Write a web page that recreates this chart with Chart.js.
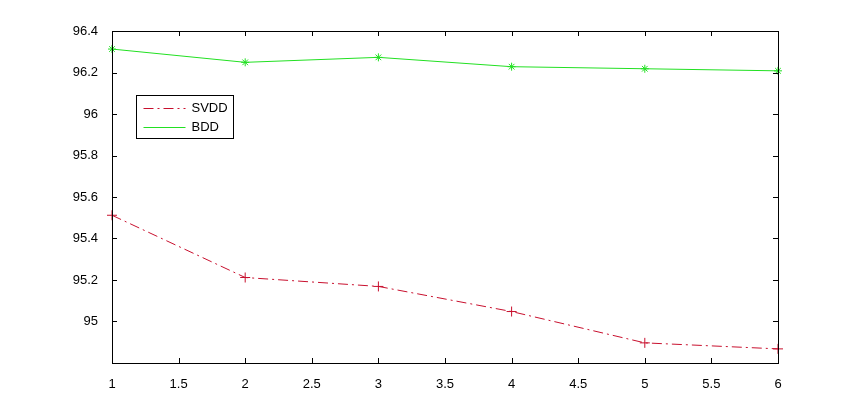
<!DOCTYPE html>
<html>
<head>
<meta charset="utf-8">
<script src="https://cdn.jsdelivr.net/npm/chart.js@4"></script>
<style>
  body { margin: 0; background: #fff; }
  #wrap { width: 859px; height: 408px; }
</style>
</head>
<body>
<div id="wrap"><canvas id="myChart" width="859" height="408"></canvas></div>
<script>
// data
const xValues = [1, 2, 3, 4, 5, 6];
const svddValues = [95.512, 95.212, 95.169, 95.048, 94.897, 94.868];
const bddValues = [96.313, 96.249, 96.273, 96.228, 96.218, 96.208];
const seriesNames = ['SVDD', 'BDD'];

const redColor = '#c8102e';
const greenColor = '#22e022';
const tickFont = { family: '"Liberation Sans", Arial, sans-serif', size: 13 };

function toPoints(vals) {
  return vals.map((v, i) => ({ x: xValues[i], y: v }));
}

// box round the plot with inward ticks on all four sides, MATLAB style
const boxPlugin = {
  id: 'boxPlugin',
  afterDatasetsDraw(chart) {
    const ctx = chart.ctx;
    const a = chart.chartArea;
    const xs = chart.scales.x, ys = chart.scales.y;
    const len = 5;
    ctx.save();
    ctx.strokeStyle = '#000';
    ctx.lineWidth = 1;
    ctx.strokeRect(Math.round(a.left) + 0.5, Math.round(a.top) + 0.5,
      Math.round(a.right - a.left), Math.round(a.bottom - a.top));
    ctx.beginPath();
    xs.ticks.forEach(t => {
      const px = Math.round(xs.getPixelForValue(t.value)) + 0.5;
      ctx.moveTo(px, a.bottom); ctx.lineTo(px, a.bottom - len);
      ctx.moveTo(px, a.top); ctx.lineTo(px, a.top + len);
    });
    ys.ticks.forEach(t => {
      const py = Math.round(ys.getPixelForValue(t.value)) + 0.5;
      ctx.moveTo(a.left, py); ctx.lineTo(a.left + len, py);
      ctx.moveTo(a.right, py); ctx.lineTo(a.right - len, py);
    });
    ctx.stroke();
    ctx.restore();
  }
};

// legend drawn inside the axes
const insideLegend = {
  id: 'insideLegend',
  afterDraw(chart) {
    const ctx = chart.ctx;
    const a = chart.chartArea;
    const bx = a.left + 24.5, by = a.top + 64.5, bw = 97, bh = 43;
    ctx.save();
    ctx.fillStyle = '#fff';
    ctx.fillRect(bx, by, bw, bh);
    ctx.strokeStyle = '#000';
    ctx.lineWidth = 1;
    ctx.strokeRect(bx, by, bw, bh);
    ctx.font = '13px "Liberation Sans", Arial, sans-serif';
    ctx.textBaseline = 'middle';
    chart.data.datasets.forEach((ds, i) => {
      const y = Math.round(by + 12 + i * 19) + 0.5;
      ctx.strokeStyle = ds.borderColor;
      ctx.setLineDash(ds.borderDash || []);
      ctx.beginPath();
      ctx.moveTo(bx + 7, y);
      ctx.lineTo(bx + 49, y);
      ctx.stroke();
      ctx.setLineDash([]);
      ctx.fillStyle = '#000';
      ctx.fillText(ds.label, bx + 55, y);
    });
    ctx.restore();
  }
};

const ctx = document.getElementById('myChart').getContext('2d');
const chart = new Chart(ctx, {
  type: 'line',
  data: {
    datasets: [
      {
        label: seriesNames[0],
        data: toPoints(svddValues),
        borderColor: redColor,
        backgroundColor: redColor,
        borderWidth: 1,
        borderDash: [10, 4, 2, 4],
        pointStyle: 'cross',
        pointRadius: 5,
        pointBorderWidth: 1,
        tension: 0
      },
      {
        label: seriesNames[1],
        data: toPoints(bddValues),
        borderColor: greenColor,
        backgroundColor: greenColor,
        borderWidth: 1,
        pointStyle: 'star',
        pointRadius: 4,
        pointBorderWidth: 1,
        tension: 0
      }
    ]
  },
  options: {
    responsive: false,
    animation: false,
    clip: false,
    layout: { padding: { left: 0, right: 81, top: 31, bottom: 0 } },
    plugins: {
      legend: { display: false },
      tooltip: { enabled: false }
    },
    scales: {
      x: {
        type: 'linear',
        min: 1,
        max: 6,
        grid: { display: false },
        border: { display: false },
        ticks: {
          stepSize: 0.5,
          color: '#000',
          padding: 6,
          font: tickFont,
          callback: v => String(+v.toFixed(1))
        },
        afterFit(scale) { scale.height = 45; }
      },
      y: {
        min: 94.8,
        max: 96.4,
        grid: { display: false },
        border: { display: false },
        ticks: {
          stepSize: 0.2,
          color: '#000',
          padding: 6,
          font: tickFont,
          callback: v => Math.abs(v - 94.8) < 1e-6 ? '' : String(+v.toFixed(1))
        },
        afterFit(scale) { scale.width = 112; }
      }
    }
  },
  plugins: [boxPlugin, insideLegend]
});
</script>
</body>
</html>
